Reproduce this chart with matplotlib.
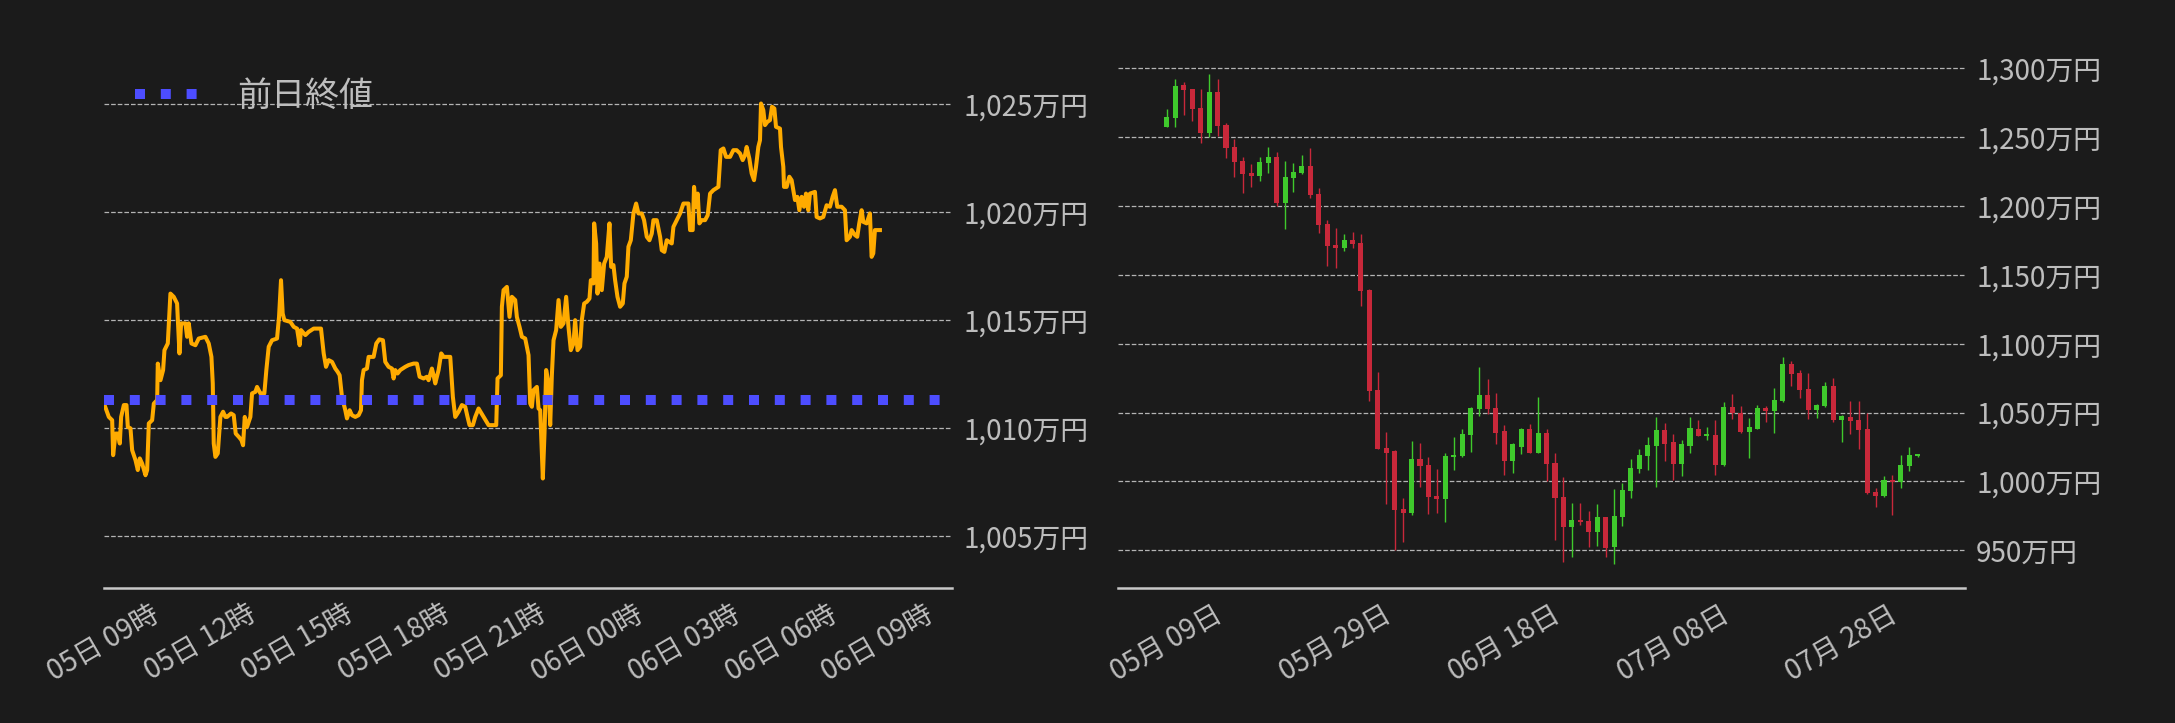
import pandas as pd
import matplotlib
matplotlib.use("Agg")
import matplotlib.pyplot as plt
import matplotlib.dates as mdates
from matplotlib.ticker import FuncFormatter

plt.rcParams['font.family'] = ['Noto Sans CJK JP', 'DejaVu Sans']

# ---- intraday (left): minutes after 05日 09時, price in 万円
intraday_start = '2024-08-05 09:00'
minutes = [
    0.0, 9.0, 15.2, 17.0, 21.4, 25.7, 29.4, 31.9, 36.9, 41.8,
    44.3, 49.3, 52.4, 58.6, 62.9, 66.6, 71.0, 77.2, 80.3, 83.4,
    89.6, 92.7, 98.9, 100.1, 105.1, 110.0, 112.5, 118.7, 123.6, 129.8,
    136.0, 140.4, 143.5, 151.5, 154.6, 157.7, 162.7, 170.1, 176.3, 188.7,
    194.9, 199.9, 202.4, 204.2, 207.3, 211.7, 216.6, 221.6, 225.9, 229.0,
    236.4, 241.4, 245.1, 250.7, 255.7, 258.8, 261.9, 266.2, 272.4, 275.5,
    281.7, 284.8, 291.0, 298.4, 302.1, 306.5, 312.7, 322.0, 325.7, 329.4,
    332.5, 335.6, 346.8, 353.0, 359.2, 364.1, 366.6, 374.7, 380.9, 390.2,
    403.8, 408.8, 413.1, 418.1, 424.3, 430.4, 434.8, 438.5, 442.8, 449.0,
    452.1, 457.1, 461.4, 467.6, 473.8, 478.2, 480.0, 483.1, 489.3, 492.4,
    501.7, 506.7, 512.3, 519.1, 523.4, 529.6, 535.8, 538.9, 542.0, 546.3,
    551.3, 560.6, 566.8, 576.1, 582.3, 587.3, 594.7, 600.9, 604.0, 610.2,
    613.3, 616.4, 622.6, 627.5, 631.9, 644.3, 649.2, 653.6, 659.8, 666.0,
    672.2, 676.5, 680.2, 686.4, 690.8, 697.0, 706.3, 715.6, 729.9, 732.3,
    738.5, 740.4, 743.5, 749.7, 754.6, 759.0, 765.2, 768.3, 773.2, 777.6,
    783.8, 786.9, 790.0, 793.1, 796.2, 799.3, 805.5, 808.6, 811.7, 816.6,
    819.7, 822.8, 827.2, 830.3, 833.4, 836.5, 841.4, 845.8, 850.1, 855.1,
    860.0, 864.3, 868.7, 873.6, 876.7, 881.1, 886.0, 889.1, 893.5, 898.4,
    903.4, 905.9, 910.8, 912.1, 915.8, 918.3, 922.0, 926.3, 930.7, 935.6,
    940.6, 943.7, 948.0, 951.1, 955.5, 960.4, 965.4, 968.5, 972.8, 975.9,
    980.3, 985.2, 990.2, 994.5, 1000.7, 1005.0, 1010.0, 1015.0, 1019.3, 1022.4,
    1028.6, 1034.8, 1037.9, 1042.8, 1047.2, 1056.5, 1059.6, 1065.8, 1072.0, 1078.2,
    1087.5, 1090.6, 1095.5, 1098.0, 1101.7, 1104.8, 1107.9, 1112.3, 1118.5, 1123.4,
    1127.8, 1134.0, 1143.3, 1147.6, 1152.6, 1157.5, 1165.0, 1171.1, 1177.3, 1183.5,
    1188.5, 1192.8, 1195.9, 1200.9, 1205.2, 1209.6, 1213.3, 1217.6, 1220.7, 1222.6,
    1226.9, 1230.0, 1234.4, 1239.3, 1243.0, 1247.4, 1250.5, 1257.9, 1259.8, 1264.1,
    1265.4, 1270.3, 1275.3, 1279.6, 1282.7, 1285.8, 1290.2, 1293.9, 1298.2, 1302.6,
    1306.3, 1310.6, 1313.7, 1323.0, 1326.1, 1332.3, 1338.5, 1344.7, 1350.9, 1355.9,
    1360.2, 1364.5, 1372.6, 1378.8, 1381.9, 1388.1, 1391.2, 1397.4, 1401.7, 1405.4,
    1409.8, 1412.9, 1419.1, 1425.3, 1428.4, 1431.5, 1434.6, 1443.9,
]
price = [
    1011.14, 1010.52, 1010.37, 1008.75, 1009.75, 1009.75, 1009.29, 1010.52, 1011.07, 1011.07,
    1010.06, 1009.99, 1008.98, 1008.52, 1008.06, 1008.60, 1008.36, 1007.82, 1008.06, 1010.22,
    1010.37, 1011.14, 1011.30, 1012.99, 1012.22, 1012.69, 1013.61, 1013.92, 1016.23, 1016.08,
    1015.77, 1013.46, 1014.85, 1014.85, 1014.23, 1014.85, 1013.92, 1013.84, 1014.15, 1014.23,
    1013.92, 1013.30, 1012.07, 1009.29, 1008.67, 1008.83, 1010.52, 1010.76, 1010.52, 1010.52,
    1010.68, 1010.60, 1009.75, 1009.60, 1009.45, 1009.21, 1010.52, 1010.06, 1010.52, 1011.61,
    1011.68, 1011.91, 1011.61, 1011.61, 1012.69, 1013.77, 1014.07, 1014.15, 1015.15, 1016.85,
    1015.31, 1015.00, 1014.92, 1014.69, 1014.61, 1013.84, 1014.54, 1014.31, 1014.46, 1014.61,
    1014.61, 1013.46, 1012.84, 1013.15, 1013.07, 1012.76, 1012.61, 1012.45, 1011.45, 1010.83,
    1010.45, 1010.83, 1010.60, 1010.52, 1010.60, 1010.83, 1012.22, 1012.69, 1012.76, 1013.30,
    1013.30, 1013.92, 1014.11, 1014.07, 1013.07, 1012.84, 1012.76, 1012.30, 1012.69, 1012.53,
    1012.69, 1012.84, 1012.92, 1012.99, 1012.99, 1012.38, 1012.30, 1012.38, 1012.22, 1012.76,
    1012.45, 1012.07, 1012.69, 1013.46, 1013.30, 1013.30, 1011.45, 1010.52, 1010.76, 1011.07,
    1010.99, 1010.52, 1010.14, 1010.14, 1010.52, 1010.91, 1010.52, 1010.14, 1010.14, 1012.30,
    1012.45, 1015.62, 1016.39, 1016.54, 1015.15, 1016.08, 1015.93, 1015.15, 1014.69, 1014.23,
    1014.15, 1013.77, 1013.38, 1011.14, 1010.99, 1011.76, 1011.91, 1010.91, 1010.83, 1007.67,
    1009.75, 1012.69, 1012.07, 1010.14, 1012.45, 1014.07, 1014.54, 1015.93, 1014.69, 1014.85,
    1016.08, 1014.69, 1013.61, 1013.92, 1015.00, 1013.61, 1013.77, 1015.00, 1015.77, 1015.85,
    1016.00, 1016.85, 1016.70, 1019.48, 1018.55, 1016.23, 1017.62, 1016.39, 1017.62, 1017.93,
    1019.48, 1017.47, 1017.55, 1016.85, 1016.08, 1015.62, 1015.77, 1016.70, 1017.01, 1018.40,
    1018.70, 1019.94, 1020.40, 1019.94, 1019.94, 1019.63, 1018.86, 1018.70, 1019.01, 1019.63,
    1019.63, 1018.86, 1018.24, 1018.16, 1018.70, 1018.55, 1019.32, 1019.63, 1019.94, 1020.40,
    1020.40, 1019.17, 1019.17, 1021.17, 1020.25, 1020.86, 1019.48, 1019.63, 1019.63, 1019.86,
    1020.86, 1021.02, 1021.17, 1022.87, 1022.95, 1022.56, 1022.56, 1022.87, 1022.87, 1022.72,
    1022.41, 1022.64, 1023.02, 1022.48, 1021.79, 1021.48, 1022.10, 1023.02, 1023.33, 1025.03,
    1024.72, 1024.03, 1024.18, 1024.26, 1024.88, 1024.80, 1023.95, 1023.87, 1023.02, 1022.10,
    1021.17, 1021.17, 1021.64, 1021.48, 1021.02, 1020.56, 1020.71, 1020.09, 1020.71, 1020.25,
    1020.86, 1020.09, 1020.86, 1020.94, 1019.78, 1019.71, 1019.78, 1020.32, 1020.25, 1020.71,
    1021.02, 1020.25, 1020.25, 1020.09, 1018.70, 1018.86, 1019.17, 1018.94, 1018.86, 1019.48,
    1020.09, 1019.55, 1019.48, 1019.94, 1017.93, 1018.09, 1019.17, 1019.17,
]
prev_close = 1011.3
left_yticks = [1005, 1010, 1015, 1020, 1025]

# ---- daily candles (right), from 05月 09日
candle_start = '2024-05-09'
opens = [
    1257.6, 1264.2, 1287.6, 1284.7, 1270.9, 1253.3, 1282.8, 1258.6, 1242.6, 1232.4,
    1223.7, 1222.0, 1231.5, 1235.4, 1202.4, 1220.6, 1224.2, 1228.8, 1208.7, 1187.0,
    1171.7, 1169.8, 1175.3, 1173.2, 1139.0, 1066.4, 1024.3, 1022.1, 980.0, 977.3,
    1016.3, 1011.9, 989.4, 987.5, 1018.0, 1018.7, 1034.0, 1052.8, 1062.8, 1053.3,
    1036.6, 1015.1, 1025.3, 1038.1, 1020.9, 1035.2, 1013.4, 988.7, 967.2, 972.0,
    971.3, 963.5, 974.2, 952.6, 974.4, 993.3, 1009.3, 1018.7, 1026.0, 1037.4,
    1028.6, 1012.9, 1026.0, 1038.1, 1033.2, 1033.7, 1012.2, 1054.1, 1049.9, 1036.1,
    1038.3, 1053.3, 1051.4, 1058.7, 1085.3, 1078.7, 1067.1, 1052.1, 1055.0, 1069.3,
    1044.9, 1046.6, 1044.6, 1038.1, 992.3, 989.7, 1001.0, 999.8, 1011.4, 1018.7,
]
highs = [
    1270.2, 1292.0, 1289.8, 1285.0, 1284.7, 1295.6, 1292.0, 1260.0, 1248.4, 1235.4,
    1230.3, 1235.8, 1243.1, 1239.5, 1232.9, 1231.5, 1236.8, 1241.9, 1212.8, 1189.6,
    1183.8, 1179.4, 1180.9, 1179.4, 1139.5, 1079.2, 1036.1, 1022.8, 987.7, 1029.1,
    1027.7, 1017.5, 1008.8, 1020.4, 1032.0, 1038.1, 1054.3, 1082.9, 1074.1, 1064.0,
    1040.7, 1027.6, 1039.0, 1041.7, 1061.1, 1038.1, 1020.4, 1003.0, 984.1, 984.6,
    978.8, 983.4, 974.4, 994.3, 999.1, 1016.1, 1023.3, 1032.0, 1047.0, 1042.2,
    1034.2, 1030.1, 1046.6, 1044.6, 1039.3, 1044.4, 1058.0, 1063.3, 1054.6, 1045.8,
    1055.3, 1054.6, 1067.6, 1090.4, 1087.7, 1080.7, 1078.5, 1056.2, 1072.0, 1074.9,
    1048.5, 1058.4, 1058.4, 1049.5, 995.5, 1003.9, 1004.7, 1018.9, 1024.8, 1020.0,
]
lows = [
    1257.0, 1257.1, 1265.8, 1261.5, 1245.5, 1249.9, 1251.1, 1234.6, 1221.3, 1209.2,
    1213.6, 1217.9, 1223.7, 1200.3, 1183.1, 1210.2, 1223.0, 1205.6, 1180.2, 1156.7,
    1155.2, 1167.1, 1169.3, 1127.6, 1058.2, 1023.5, 983.4, 950.2, 955.8, 975.6,
    996.2, 976.4, 976.8, 970.5, 1008.3, 1017.5, 1021.1, 1047.5, 1049.0, 1026.9,
    1004.4, 1005.9, 1019.7, 1020.5, 1020.5, 1000.6, 957.5, 941.3, 944.9, 968.4,
    952.6, 953.4, 944.9, 939.8, 967.6, 987.7, 1005.9, 1008.3, 996.2, 1014.6,
    1001.3, 1004.2, 1020.4, 1033.0, 1030.1, 1004.9, 1011.4, 1045.1, 1034.9, 1016.8,
    1038.0, 1043.4, 1035.4, 1057.4, 1069.5, 1060.3, 1045.3, 1045.8, 1053.8, 1042.9,
    1028.4, 1034.2, 1023.3, 990.9, 981.2, 988.9, 975.6, 995.0, 1007.3, 1018.0,
]
closes = [
    1264.4, 1287.2, 1284.5, 1270.7, 1253.3, 1282.8, 1258.3, 1242.4, 1232.2, 1223.5,
    1222.0, 1232.0, 1235.6, 1202.4, 1221.1, 1224.7, 1229.1, 1208.0, 1186.5, 1171.2,
    1169.8, 1175.3, 1172.7, 1138.5, 1065.9, 1023.8, 1020.9, 979.3, 977.3, 1016.3,
    1011.4, 988.9, 987.5, 1018.5, 1019.2, 1034.5, 1053.3, 1062.8, 1052.8, 1035.4,
    1015.1, 1027.2, 1038.1, 1020.9, 1035.2, 1012.9, 988.2, 967.2, 972.0, 970.5,
    963.5, 974.2, 951.9, 974.9, 993.8, 1009.8, 1019.2, 1026.5, 1037.4, 1027.4,
    1012.9, 1027.2, 1038.8, 1033.2, 1034.5, 1012.2, 1054.1, 1049.9, 1036.1, 1039.5,
    1053.3, 1051.4, 1059.1, 1085.3, 1078.3, 1066.6, 1052.1, 1055.5, 1069.3, 1044.9,
    1047.5, 1044.1, 1037.6, 991.9, 989.7, 1001.0, 999.8, 1011.9, 1019.2, 1019.9,
]
right_yticks = [950, 1000, 1050, 1100, 1150, 1200, 1250, 1300]

bg = '#1b1b1b'
txt = '#bdbdbd'
up_c = '#3fc92c'
down_c = '#c8283a'

W, H = 2175, 723
fig = plt.figure(figsize=(W / 100, H / 100), dpi=100, facecolor=bg)
ax1 = fig.add_axes([104 / W, 1 - 588 / H, 848 / W, 540 / H])
ax2 = fig.add_axes([1118 / W, 1 - 588 / H, 847 / W, 540 / H])

# left: intraday line + previous close
t0 = pd.Timestamp(intraday_start)
times = t0 + pd.to_timedelta(minutes, unit='min')
ax1.plot(times, price, color='#ffab00', lw=2.9, zorder=2)
ax1.axhline(prev_close, color='#4d4dff', lw=7.2, ls=(0, (1, 1.58)),
            label='前日終値', zorder=3)
ax1.set_xlim(t0, t0 + pd.Timedelta(minutes=1578))
ax1.set_ylim(1002.6, 1027.6)
ax1.set_yticks(left_yticks)
ax1.set_xticks([t0 + pd.Timedelta(hours=3 * k) for k in range(9)])
ax1.xaxis.set_major_formatter(mdates.DateFormatter('%d日 %H時'))
ax1.legend(loc='upper left', frameon=False, fontsize=24.5, labelcolor=txt,
           handletextpad=1.0)

# right: candlesticks
days = pd.date_range(candle_start, periods=len(opens), freq='D')
x = mdates.date2num(days)
cols = [up_c if c >= o else down_c for o, c in zip(opens, closes)]
ax2.vlines(x, lows, highs, colors=cols, lw=1.0, zorder=2)
ax2.bar(x, [abs(c - o) for o, c in zip(opens, closes)],
        bottom=[min(o, c) for o, c in zip(opens, closes)],
        width=0.6, color=cols, zorder=3)
ax2.set_xlim(x[0] - 5.8, x[0] + 94.6)
ax2.set_ylim(922.6, 1314.7)
ax2.set_yticks(right_yticks)
ax2.set_xticks(x[0] + pd.Series([0, 20, 40, 60, 80]))
ax2.xaxis.set_major_formatter(mdates.DateFormatter('%m月 %d日'))

for ax in (ax1, ax2):
    ax.set_facecolor(bg)
    for s in ('top', 'left', 'right'):
        ax.spines[s].set_visible(False)
    ax.spines['bottom'].set_color('#c8c8c8')
    ax.spines['bottom'].set_linewidth(1.8)
    ax.yaxis.tick_right()
    ax.tick_params(length=0, pad=8, labelsize=20, colors=txt)
    ax.tick_params(axis='x', labelrotation=30)
    ax.grid(axis='y', ls='--', lw=0.9, color='#b4b4b4')
    ax.set_axisbelow(True)
    ax.yaxis.set_major_formatter(FuncFormatter(lambda v, p: f'{v:,.0f}万円'))

fig.savefig('out.png', dpi=100, facecolor=bg)
